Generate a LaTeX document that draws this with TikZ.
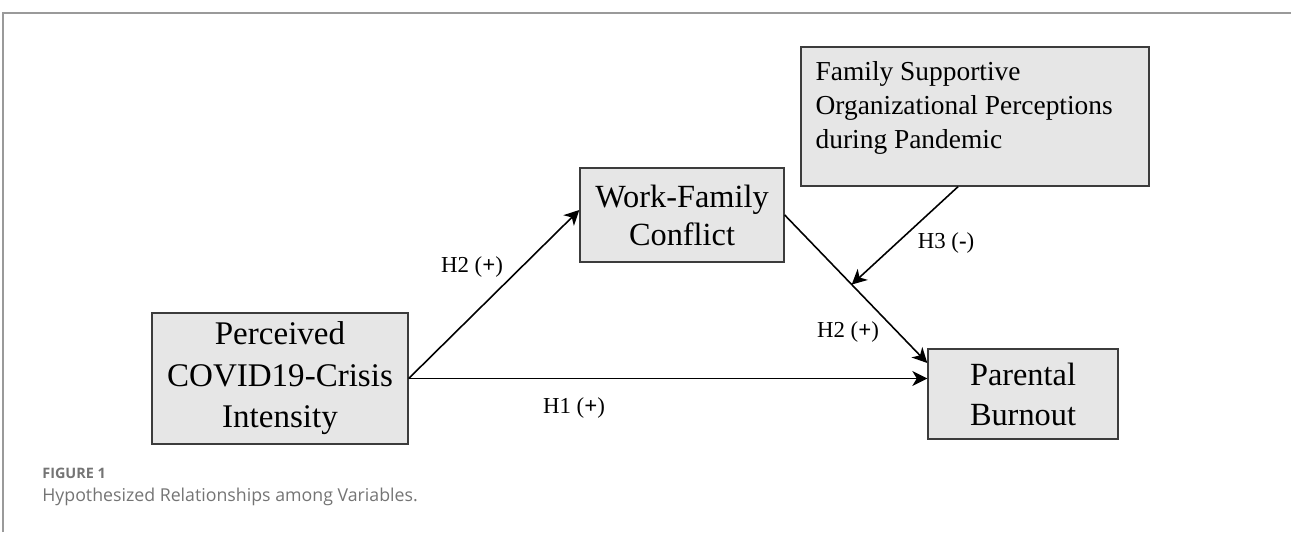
\documentclass[tikz,border=0pt]{standalone}
\usepackage{fontspec}
\setmainfont{Liberation Serif}
\newfontfamily\captionfont{Open Sans}
\usepackage{tikz}
\usetikzlibrary{positioning, arrows.meta}

\definecolor{boxfill}{HTML}{E6E6E6}
\definecolor{boxline}{HTML}{3C3C3C}
\definecolor{framegray}{HTML}{9A9A9A}
\definecolor{captiongray}{HTML}{747474}

\begin{document}
\begin{tikzpicture}[
    box/.style={rectangle, draw=boxline, fill=boxfill, line width=0.8pt, align=center, inner sep=0pt,
        font=\fontsize{18.4}{21.6}\selectfont},
    hyp/.style={inner sep=0pt, font=\fontsize{13}{15}\selectfont},
    arr/.style={-{Stealth[length=8.5pt, width=8.5pt, inset=2.5pt]}, line width=0.9pt}
    ]
    \useasboundingbox (0,0) rectangle (25.82,-10.64);

    % Cornice
    \draw[framegray, line width=1pt] (0.06,-10.64) -- (0.06,-0.26) -- (25.82,-0.26);

    % Riquadri
    \node (perc) at (5.6,-7.57) [box, minimum width=5.12cm, minimum height=2.62cm,
        font=\fontsize{18.8}{23.6}\selectfont] {Perceived\\COVID19-Crisis\\Intensity};
    \node (wfc) at (13.64,-4.3) [box, minimum width=4.08cm, minimum height=1.88cm] {Work-Family\\Conflict};
    \node (pb) at (20.46,-7.88) [box, minimum width=3.8cm, minimum height=1.8cm,
        font=\fontsize{18.4}{22.7}\selectfont] {Parental\\Burnout};
    \node (fsop) at (19.5,-2.33) [box, minimum width=6.96cm, minimum height=2.78cm] {};
    \node (fsoptxt) [anchor=north west, align=left, inner sep=0pt, font=\fontsize{15.6}{19.4}\selectfont]
        at ([xshift=0.3cm, yshift=-0.3cm]fsop.north west) {Family Supportive\\Organizational Perceptions\\during Pandemic};

    % Collegamenti
    \draw[arr] (perc.east) -- (perc.east -| pb.west);
    \draw[arr] (perc.east) -- ([yshift=0.1cm]wfc.west);
    \draw[arr] (wfc.east) -- coordinate[pos=0.47] (mod) ([yshift=0.62cm]pb.west);
    \draw[arr] ([xshift=-0.34cm]fsop.south) -- (mod);

    % Etichette
    \node (h2a) at (9.44,-5.34) [hyp] {H2 (\textbf{+})};
    \node (h2b) at (16.96,-6.64) [hyp] {H2 (\textbf{+})};
    \node (h3) at (18.92,-4.86) [hyp] {H3 (\textbf{-})};
    \node (h1) at (11.48,-8.16) [hyp] {H1 (\textbf{+})};

    % Didascalia
    \node (figno) at (0.84,-9.46) [anchor=west, inner sep=0pt, text=captiongray, font=\captionfont\bfseries\fontsize{8.2}{10}\selectfont] {FIGURE 1};
    \node (figcap) at (0.84,-9.94) [anchor=west, inner sep=0pt, text=captiongray, font=\captionfont\fontsize{10.1}{12}\selectfont] {Hypothesized Relationships among Variables.};
\end{tikzpicture}
\end{document}
